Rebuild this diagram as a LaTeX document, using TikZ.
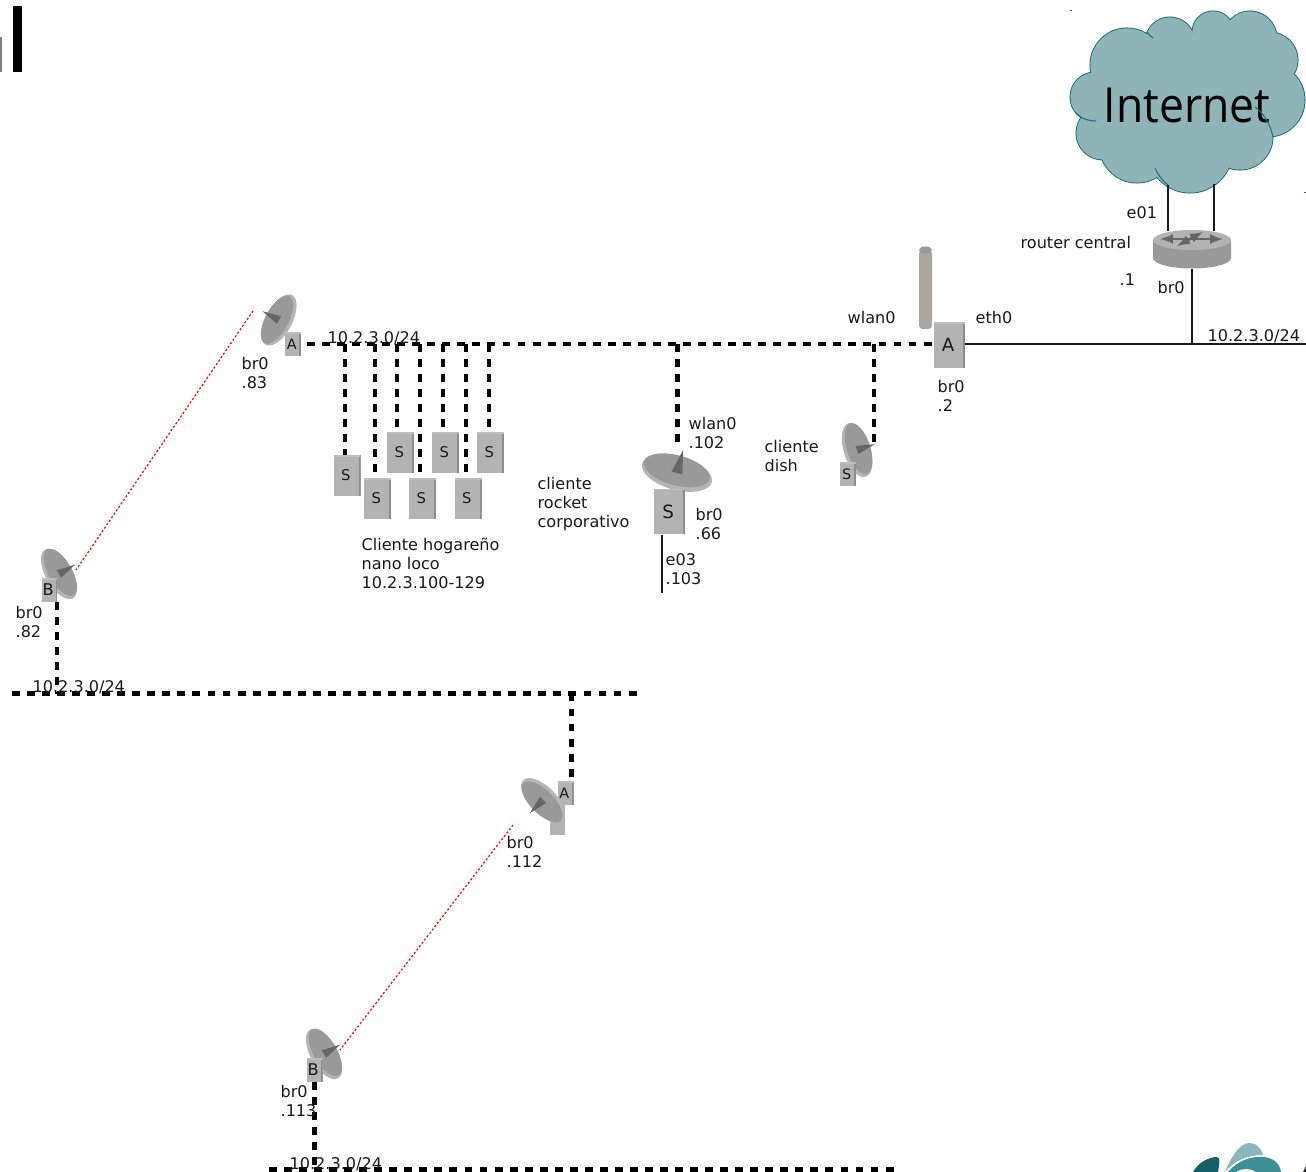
\documentclass[tikz,border=0pt]{standalone}
\usepackage{fontspec}
\setmainfont{DejaVu Sans}
\newfontfamily\cloudfont{Open Sans}

\definecolor{boxgray}{HTML}{B3B3B3}
\definecolor{boxdark}{HTML}{8C8C8C}
\definecolor{boxlight}{HTML}{BEBEBE}
\definecolor{dishgray}{HTML}{999999}
\definecolor{rimgray}{HTML}{B5B5B5}
\definecolor{feedgray}{HTML}{666666}
\definecolor{cloudfill}{HTML}{8FB4B7}
\definecolor{cloudline}{HTML}{17727A}
\definecolor{mastgray}{HTML}{AEA79F}
\definecolor{logodark}{HTML}{155F66}
\definecolor{logomid}{HTML}{3F8F96}
\definecolor{logolight}{HTML}{8AB6BC}

\tikzset{
  label/.style={anchor=west, align=left, inner sep=0pt, xshift=-0.4pt, text=black!90, font=\fontsize{9.15}{10.8}\selectfont},
  radiobox/.style={fill=boxgray, inner sep=0pt, text=black!90, execute at begin node=\kern-1.5pt,
    path picture={
      \fill[boxdark] ([xshift=-1.1pt]path picture bounding box.north east) rectangle (path picture bounding box.south east);
      \fill[boxlight] ([yshift=-1pt]path picture bounding box.north west) rectangle (path picture bounding box.north east);
    }},
  tinybox/.style={radiobox, minimum width=0.32cm, minimum height=0.48cm, font=\fontsize{8.2}{9}\selectfont},
  clientbox/.style={radiobox, minimum width=0.54cm, minimum height=0.82cm, font=\fontsize{8.4}{9}\selectfont},
  bigbox/.style={radiobox, minimum width=0.62cm, minimum height=0.92cm, font=\fontsize{10.4}{11}\selectfont},
  wifi/.style={black, line width=2.3pt, dash pattern=on 4.5pt off 4.06pt},
  wire/.style={black!90, line width=0.8pt},
  link/.style={red, line width=0.7pt, dash pattern=on 1.2pt off 1.2pt},
  dish/.pic={
    \fill[rimgray] (0,0) ellipse [x radius=36, y radius=17];
    \fill[dishgray] (-1,-2.5) ellipse [x radius=34, y radius=15];
    \fill[feedgray] (0,-24) -- (-5.5,0) -- (5.5,0) -- cycle;
  }
}

\begin{document}
\begin{tikzpicture}[x=0.02cm, y=-0.02cm]

\useasboundingbox (0,0) rectangle (1306,1172);

% Cut off title
\fill[black] (13,6) rectangle (22,72);
\fill[gray] (0,37) rectangle (2,72);

% Internet cloud
\foreach \cx/\cy/\cr in {1127/65/37, 1170/42/25, 1213/32/21, 1250/38/27, 1270/60/28, 1268/100/37, 1240/137/33, 1190/150/43, 1137/145/38, 1103/133/27, 1095/97/25}
  \draw[cloudline, fill=cloudfill, line width=0.6pt] (\cx,\cy) circle [radius=\cr];
\foreach \cx/\cy/\cr in {1127/65/37, 1170/42/25, 1213/32/21, 1250/38/27, 1270/60/28, 1268/100/37, 1240/137/33, 1190/150/43, 1137/145/38, 1103/133/27, 1095/97/25}
  \fill[cloudfill] (\cx,\cy) circle [radius=\cr-0.5];
\fill[cloudfill] (1110,60) rectangle (1270,150);
\fill[cloudfill] (1180,40) rectangle (1245,62);
\path
(1187,105) node (internet) [inner sep=0pt, font=\cloudfont\fontsize{27.5}{30}\selectfont] {\scalebox{0.92}[1]{Internet}};
\draw[cloudline, line width=0.6pt] (1255,107) .. controls (1262,112) and (1270,122) .. (1273,137);
\draw[cloudline, line width=0.6pt] (1153,38) .. controls (1150,36) and (1148,34) .. (1147,32);
\draw[cloudline, line width=0.6pt] (1096,121) .. controls (1088,121) and (1080,118) .. (1076,113);
\draw[cloudline, line width=0.6pt] (1155,168) .. controls (1158,175) and (1162,180) .. (1168,185);

% Specks beside the cloud
\fill[cloudline] (1070,10.5) rectangle (1072,11.5);
\fill[cloudline] (1304,192.5) rectangle (1306,193.5);

% Router central
\path
(1192,250) node (router) [minimum width=1.56cm, minimum height=0.76cm, inner sep=0pt] {};
\fill[dishgray] (1153,240) -- (1153,258) arc [start angle=180, end angle=0, x radius=39, y radius=10.5] -- (1231,240) -- cycle;
\fill[boxgray] (1192,240) ellipse [x radius=39, y radius=10];
\draw[feedgray, line width=1.5pt, <->, >=latex] (1160,239) -- (1223,239);
\draw[feedgray, line width=1.5pt, <->, >=latex] (1177,246) -- (1203,232);

% Uplinks to the cloud
\coordinate (up1) at (1168,185);
\coordinate (up2) at (1214,184);
\draw[wire] (up1) -- (up1 |- router.north);
\draw[wire] (up2) -- (up2 |- router.north);

% Mast and main radio
\filldraw[fill=mastgray, draw=none, rounded corners=2pt] (919,250) rectangle (932,329);
\fill[dishgray] (925.5,250) ellipse [x radius=6.5, y radius=3.5];
\path
(949.5,345) node (ap) [bigbox] {A};

% Wired side of main radio
\coordinate (lanend) at (1306,344);
\coordinate (lantap) at (1192,344);
\draw[wire] (ap.east |- lanend) -- (lanend);
\draw[wire] (router.south) -- (lantap);

% Link 83
\pic[rotate=62, scale=0.78] at (279,320) {dish};
\path
(293,344) node (a83) [tinybox] {A};

% Link 82
\pic[rotate=-60, scale=0.78] at (59,574) {dish};
\path
(49.5,590) node (b82) [tinybox, font=\fontsize{9.2}{10}\selectfont] {B};

% Link 112
\fill[boxgray] (550,805) rectangle (565,835);
\path
(565.5,793) node (a112) [tinybox] {A};
\pic[rotate=135, scale=0.78] at (543,800) {dish};

% Link 113
\pic[rotate=-60, scale=0.78] at (324,1054) {dish};
\path
(314.5,1070) node (b113) [tinybox, font=\fontsize{9.2}{10}\selectfont] {B};

% Red radio links
\coordinate (l83) at (253,311);
\coordinate (l82) at (76,570);
\coordinate (l112) at (513,825);
\coordinate (l113) at (340,1050);
\draw[link] (l83) -- (l82);
\draw[link] (l112) -- (l113);

% Home clients
\path
(347,475.5) node (s1) [clientbox] {S}
(377.5,498.5) node (s2) [clientbox] {S}
(400.5,452.5) node (s3) [clientbox] {S}
(422.5,498.5) node (s4) [clientbox] {S}
(445.5,452.5) node (s5) [clientbox] {S}
(468,498.5) node (s6) [clientbox] {S}
(490.5,452.5) node (s7) [clientbox] {S};

% Rocket client
\pic[rotate=-15] at (677,473) {dish};
\path
(669.5,511.5) node (rocket) [bigbox] {S};
\coordinate (e03end) at (662,593);
\draw[wire] (e03end |- rocket.south) -- (e03end);

% Dish client
\pic[rotate=-72, scale=0.78] at (857,450) {dish};
\path
(848,474) node (sdish) [tinybox] {S};

% Main wireless segment
\coordinate (bus1w) at (307,344);
\draw[wifi] (bus1w) -- (ap.west |- bus1w);
\foreach \tapx/\boxname in {345/s1, 375/s2, 397/s3, 420/s4, 443/s5, 466/s6, 489/s7}
  \draw[wifi] (\tapx,344) -- (\tapx,344 |- \boxname.north);
\coordinate (taprocket) at (677.5,344);
\coordinate (tapdish) at (874,344);
\coordinate (endrocket) at (677.5,447);
\coordinate (enddish) at (874,442);
\draw[wifi] (taprocket) -- (endrocket);
\draw[wifi] (tapdish) -- (enddish);

% Second wireless segment
\coordinate (bus2w) at (12,693.5);
\coordinate (bus2e) at (640,693.5);
\coordinate (tap112) at (571.5,693.5);
\draw[wifi] (bus2w) -- (bus2e);
\draw[wifi] (57,602) -- (57,693.5);
\draw[wifi] (tap112) -- (tap112 |- a112.north);

% Third wireless segment
\coordinate (bus3w) at (269,1169.5);
\coordinate (bus3e) at (896,1169.5);
\draw[wifi] (bus3w) -- (bus3e);
\draw[wifi] (314.5,1082) -- (314.5,1169.5);

% Labels
\path
(1127,213) node (le01) [label] {e01}
(1021,243) node (lrouter) [label] {router central}
(1120,280) node (ldot1) [label] {.1}
(1158,288) node (lbr1) [label] {br0}
(1208,336) node (lnet1) [label] {10.2.3.0/24}
(976,318) node (leth) [label] {eth0}
(848,318) node (lwlan) [label] {wlan0}
(938,396) node (lbr2) [label] {br0\\.2}
(328,338) node (lnet2) [label] {10.2.3.0/24}
(242,373) node (lbr83) [label] {br0\\.83}
(362,563.5) node (lhome) [label] {Cliente hogareño\\nano loco\\10.2.3.100-129}
(538,504) node (lrocket) [label] {cliente\\rocket\\corporativo}
(689,433) node (lwlan102) [label] {wlan0\\.102}
(696,524) node (lbr66) [label] {br0\\.66}
(666,569.5) node (le03) [label] {e03\\.103}
(765,456) node (ldish) [label] {cliente\\dish}
(16,622) node (lbr82) [label] {br0\\.82}
(33,687) node (lnet3) [label] {10.2.3.0/24}
(507,852) node (lbr112) [label] {br0\\.112}
(281,1101) node (lbr113) [label] {br0\\.113}
(290,1164) node (lnet4) [label] {10.2.3.0/24};

% Cut off logo
\begin{scope}
\clip (1170,1120) rectangle (1306,1172);
\fill[logolight] (1225,1172) .. controls (1232,1155) and (1240,1143) .. (1250,1143) .. controls (1257,1143) and (1262,1150) .. (1263,1155) .. controls (1248,1155) and (1235,1160) .. (1225,1172) -- cycle;
\fill[logomid] (1228,1172) .. controls (1238,1160) and (1252,1156) .. (1264,1157) .. controls (1274,1158) and (1280,1164) .. (1281,1172) -- cycle;
\fill[logodark] (1193,1172) .. controls (1198,1163) and (1208,1157) .. (1217,1157) .. controls (1221,1157) and (1219,1165) .. (1218,1172) -- cycle;
\fill[white] (1236,1172) .. controls (1242,1168) and (1250,1168) .. (1256,1172) -- cycle;
\fill[black!85] (1303,1172) -- (1306,1166) -- (1306,1172) -- cycle;
\end{scope}

\end{tikzpicture}
\end{document}
